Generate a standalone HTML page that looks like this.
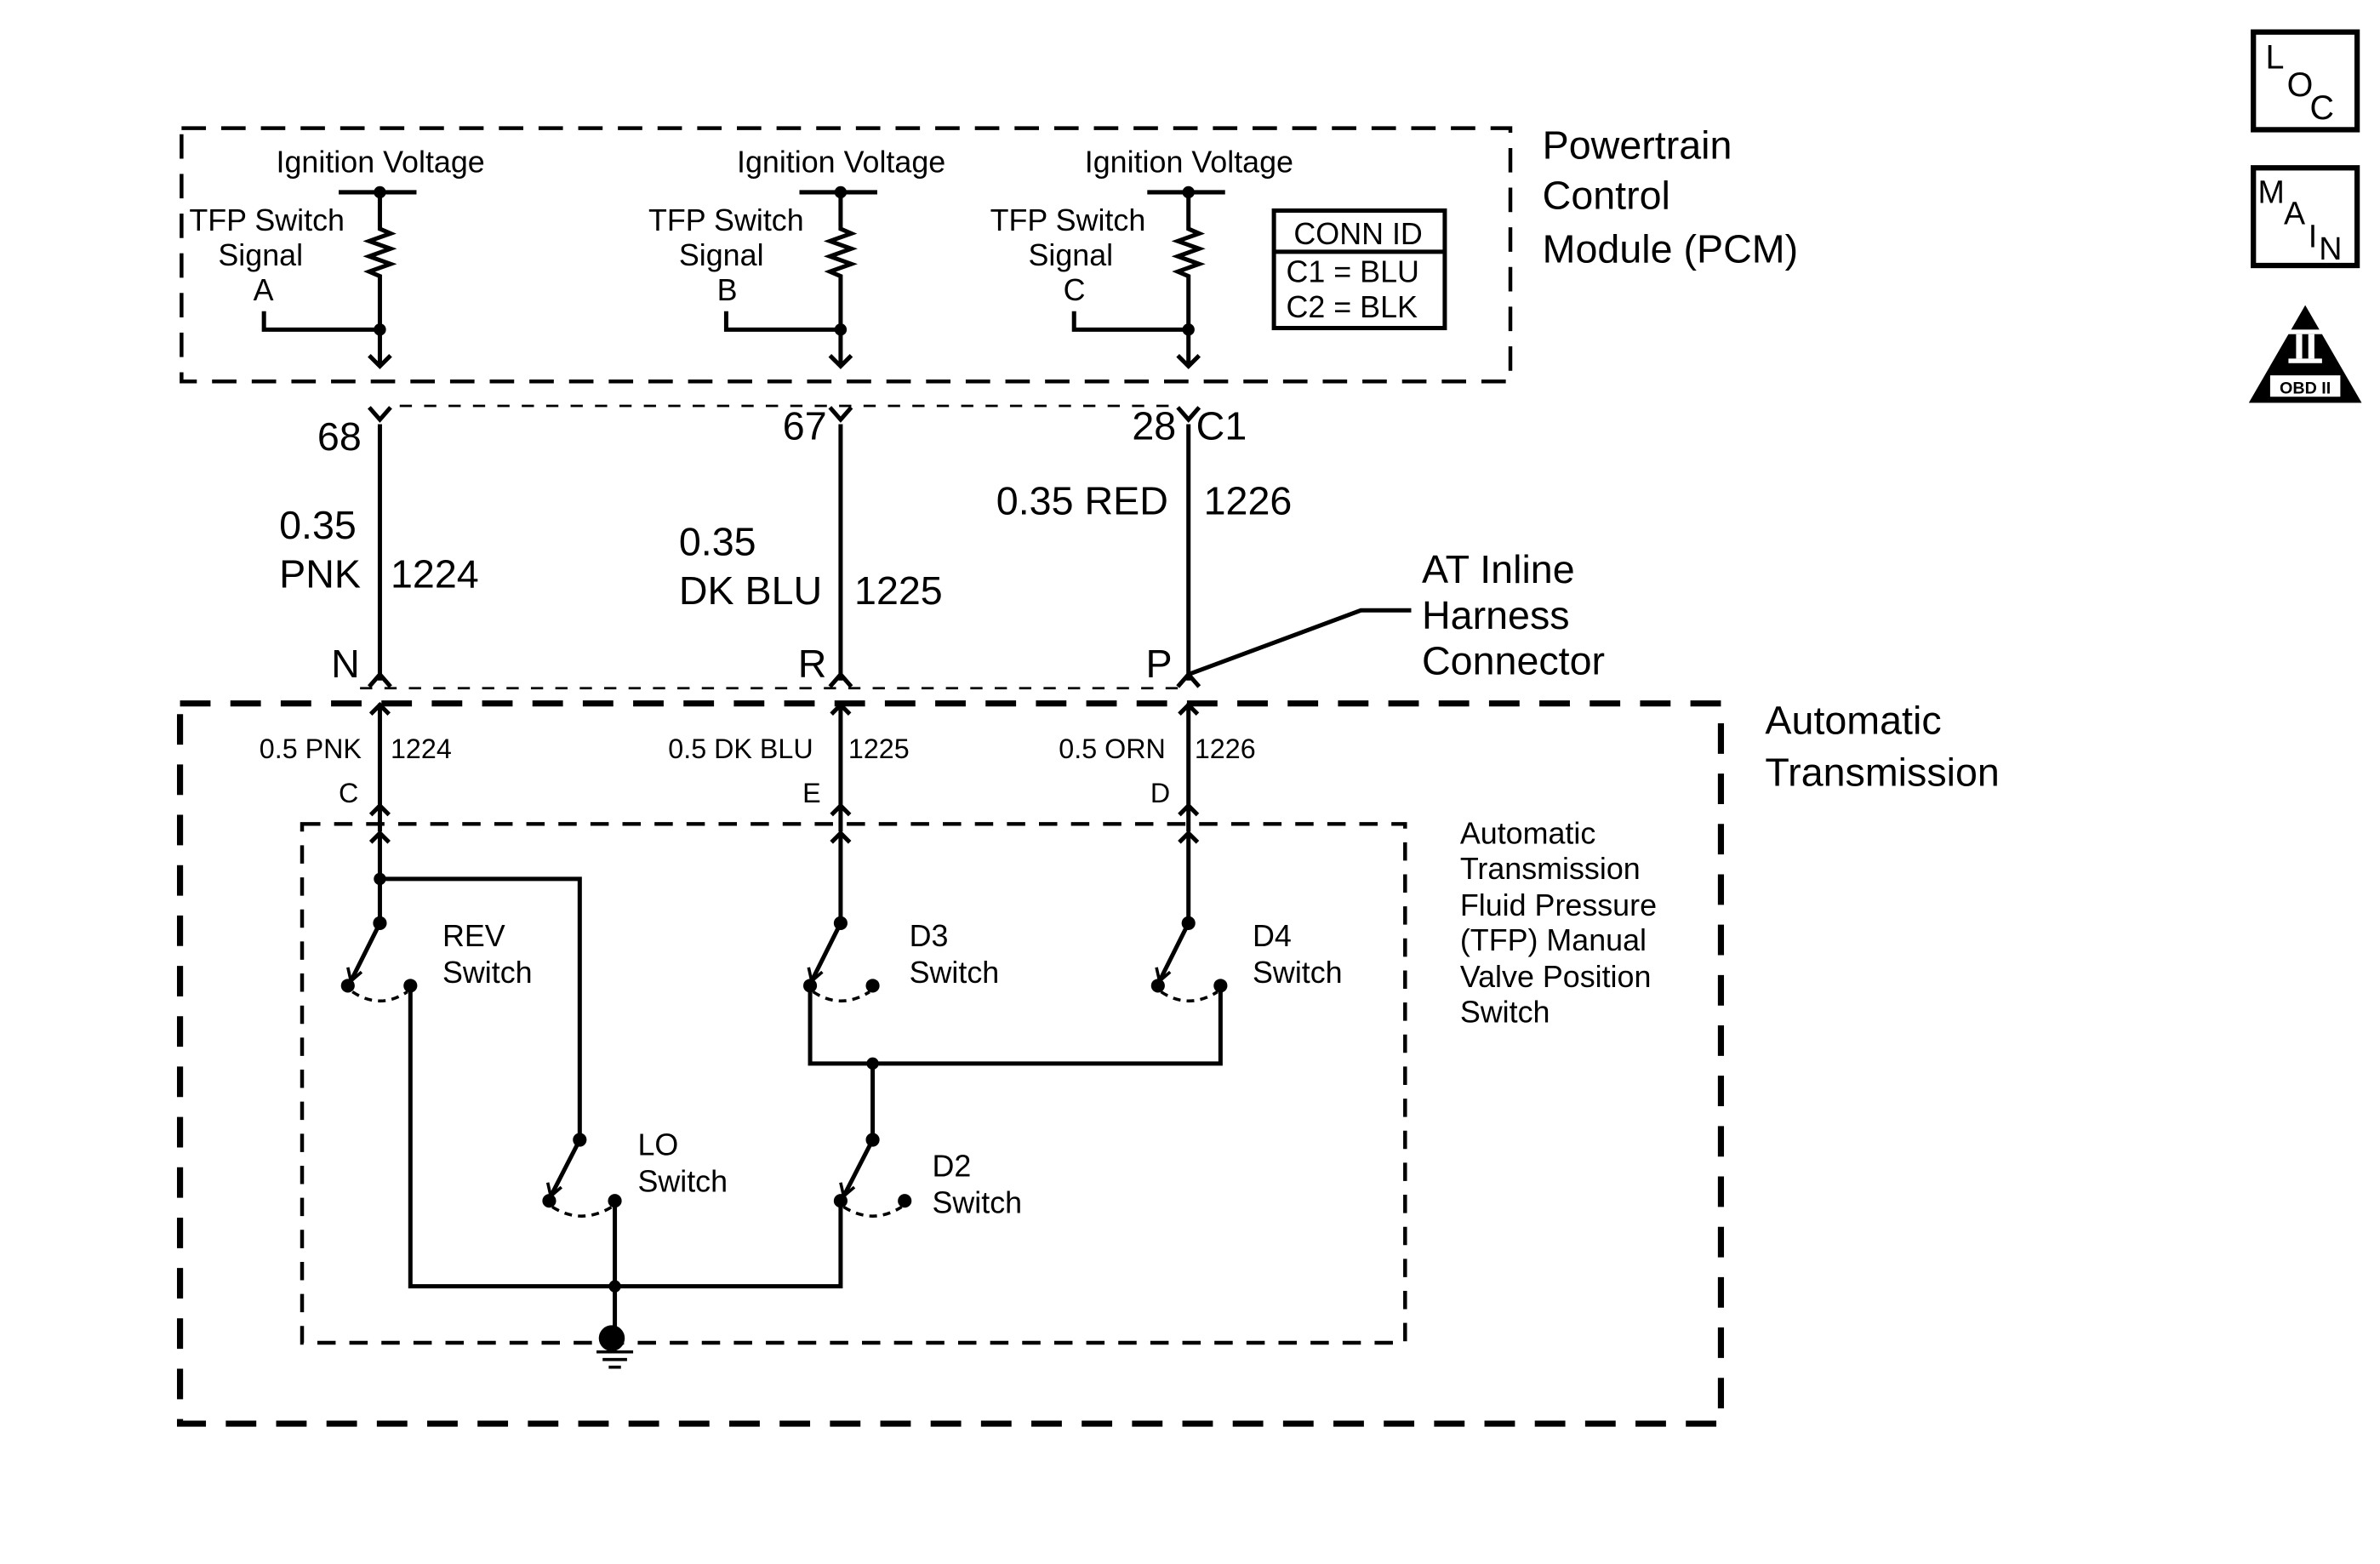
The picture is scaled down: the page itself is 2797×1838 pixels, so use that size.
<!DOCTYPE html>
<html><head><meta charset="utf-8"><style>html,body{margin:0;padding:0;background:#fff}svg{display:block}</style></head>
<body>
<svg width="2797" height="1838" viewBox="0 0 1560 1025" preserveAspectRatio="none" xmlns="http://www.w3.org/2000/svg" font-family="Liberation Sans, sans-serif" fill="none" stroke="#000">
<!-- PCM box -->
<rect x="119" y="84" width="871" height="166" stroke-width="2.5" stroke-dasharray="16,10"/>
<g stroke-width="2.8">
<path d="M222,126 H273 M249,126 V150 l7,3 -14,5 14,5 -14,5 14,5 -14,5 7,3 V240 M173,204 V216 H249"/>
<path d="M524,126 H575 M551,126 V150 l7,3 -14,5 14,5 -14,5 14,5 -14,5 7,3 V240 M476,204 V216 H551"/>
<path d="M752,126 H803 M779,126 V150 l7,3 -14,5 14,5 -14,5 14,5 -14,5 7,3 V240 M704,204 V216 H779"/>
<polyline points="242,233 249,240 256,233"/>
<polyline points="544,233 551,240 558,233"/>
<polyline points="772,233 779,240 786,233"/>
</g>
<g fill="#000" stroke="none">
<circle cx="249" cy="126" r="4"/><circle cx="249" cy="216" r="4"/>
<circle cx="551" cy="126" r="4"/><circle cx="551" cy="216" r="4"/>
<circle cx="779" cy="126" r="4"/><circle cx="779" cy="216" r="4"/>
</g>
<rect x="835" y="138" width="112" height="77" stroke-width="2.8"/>
<line x1="835" y1="165" x2="947" y2="165" stroke-width="2.8"/>
<line x1="262" y1="266" x2="772" y2="266" stroke-width="1.5" stroke-dasharray="8,8"/>
<line x1="236" y1="451" x2="772" y2="451" stroke-width="1.5" stroke-dasharray="8,8"/>
<g stroke-width="2.8">
<path d="M249,278 V446 M242,267 L249,275 L256,267 M242,450 L249,442 L256,450"/>
<path d="M551,278 V446 M544,267 L551,275 L558,267 M544,450 L551,442 L558,450"/>
<path d="M779,278 V446 M772,267 L779,275 L786,267 M772,450 L779,442 L786,450"/>
<path d="M779,442 L892,400 H925"/>
</g>
<rect x="118" y="461" width="1010" height="472" stroke-width="4" stroke-dasharray="20,13"/>
<g stroke-width="2.8">
<path d="M249,461 V530 M243,468 L249,462 L255,468 M243,534 L249,528 L255,534 M249,530 V545"/>
<path d="M551,461 V530 M545,468 L551,462 L557,468 M545,534 L551,528 L557,534 M551,530 V545"/>
<path d="M779,461 V530 M773,468 L779,462 L785,468 M773,534 L779,528 L785,534 M779,530 V545"/>
</g>
<rect x="198" y="540" width="723" height="340" stroke-width="2.5" stroke-dasharray="12,9"/>
<g stroke-width="2.8">
<path d="M243,552 L249,546 L255,552 M249,547 V605 M249,576 H380 V747"/>
<path d="M545,552 L551,546 L557,552 M551,547 V605"/>
<path d="M773,552 L779,546 L785,552 M779,547 V605"/>
<path d="M249,605 L230,643"/><path d="M551,605 L532,643"/><path d="M779,605 L760,643"/>
<path d="M380,747 L361,784"/><path d="M572,747 L553,784"/>
<path d="M269,646 V843 H551 V787"/>
<path d="M403,787 V880"/>
<path d="M531,646 V697 H800 V646"/>
<path d="M572,697 V747"/>
<path d="M391,886 H415 M395,891 H411 M399,896 H407" stroke-width="2"/>
</g>
<g stroke-width="2">
<polyline points="228,634 230,643 237,637"/>
<polyline points="530,634 532,643 539,637"/>
<polyline points="758,634 760,643 767,637"/>
<polyline points="359,775 361,784 368,778"/>
<polyline points="551,775 553,784 560,778"/>
</g>
<g stroke-width="2" stroke-dasharray="5,4">
<path d="M231,650 Q249,662 267,650"/>
<path d="M533,650 Q551,662 570,650"/>
<path d="M761,650 Q779,662 798,650"/>
<path d="M362,791 Q381,803 401,791"/>
<path d="M553,791 Q572,803 591,791"/>
</g>
<g fill="#000" stroke="none">
<circle cx="249" cy="576" r="4"/><circle cx="249" cy="605" r="4.5"/><circle cx="228" cy="646" r="4.5"/><circle cx="269" cy="646" r="4.5"/>
<circle cx="551" cy="605" r="4.5"/><circle cx="531" cy="646" r="4.5"/><circle cx="572" cy="646" r="4.5"/>
<circle cx="779" cy="605" r="4.5"/><circle cx="759" cy="646" r="4.5"/><circle cx="800" cy="646" r="4.5"/>
<circle cx="572" cy="697" r="4"/>
<circle cx="380" cy="747" r="4.5"/><circle cx="360" cy="787" r="4.5"/><circle cx="403" cy="787" r="4.5"/>
<circle cx="572" cy="747" r="4.5"/><circle cx="551" cy="787" r="4.5"/><circle cx="593" cy="787" r="4.5"/>
<circle cx="403" cy="843" r="4"/>
<circle cx="401" cy="877" r="8.5"/>
</g>
<rect x="1477" y="21" width="68" height="64" stroke-width="3.5"/>
<rect x="1477" y="110" width="68" height="64" stroke-width="3.5"/>
<polygon points="1511,200 1548,264 1474,264" fill="#000" stroke="none"/>
<g fill="#fff" stroke="none"><rect x="1500" y="216" width="22" height="3"/><rect x="1500" y="235" width="22" height="3"/><rect x="1505" y="219" width="4" height="16"/><rect x="1513" y="219" width="4" height="16"/><rect x="1488" y="246" width="46" height="14"/></g>
<g fill="#000" stroke="none">
<text x="1485" y="45" font-size="22">L</text><text x="1499" y="63" font-size="22">O</text><text x="1514" y="78" font-size="22">C</text>
<text x="1480" y="133" font-size="21">M</text><text x="1497" y="147" font-size="21">A</text><text x="1513" y="162" font-size="21">I</text><text x="1520" y="170" font-size="21">N</text>
<text x="1511" y="258" font-size="11" font-weight="bold" text-anchor="middle">OBD II</text>
<g font-size="20">
<text x="181" y="113">Ignition Voltage</text>
<text x="483" y="113">Ignition Voltage</text>
<text x="711" y="113">Ignition Voltage</text>
<text x="124" y="151">TFP Switch</text><text x="143" y="174">Signal</text><text x="166" y="197">A</text>
<text x="425" y="151">TFP Switch</text><text x="445" y="174">Signal</text><text x="470" y="197">B</text>
<text x="649" y="151">TFP Switch</text><text x="674" y="174">Signal</text><text x="697" y="197">C</text>
<text x="848" y="160">CONN ID</text>
<text x="843" y="185">C1  =  BLU</text>
<text x="843" y="208">C2  =  BLK</text>
</g>
<g font-size="26">
<text x="1011" y="104">Powertrain</text>
<text x="1011" y="137">Control</text>
<text x="1011" y="172">Module (PCM)</text>
<text x="208" y="295">68</text>
<text x="513" y="288">67</text>
<text x="742" y="288">28</text><text x="784" y="288">C1</text>
<text x="183" y="353">0.35</text>
<text x="183" y="385">PNK</text><text x="256" y="385">1224</text>
<text x="445" y="364">0.35</text>
<text x="445" y="396">DK BLU</text><text x="560" y="396">1225</text>
<text x="653" y="337">0.35 RED</text><text x="789" y="337">1226</text>
<text x="932" y="382">AT Inline</text>
<text x="932" y="412">Harness</text>
<text x="932" y="442">Connector</text>
<text x="217" y="444">N</text>
<text x="523" y="444">R</text>
<text x="751" y="444">P</text>
<text x="1157" y="481">Automatic</text>
<text x="1157" y="515">Transmission</text>
</g>
<g font-size="18">
<text x="170" y="497">0.5 PNK</text><text x="256" y="497">1224</text>
<text x="438" y="497">0.5 DK BLU</text><text x="556" y="497">1225</text>
<text x="694" y="497">0.5 ORN</text><text x="783" y="497">1226</text>
<text x="222" y="526">C</text><text x="526" y="526">E</text><text x="754" y="526">D</text>
</g>
<g font-size="20">
<text x="957" y="553">Automatic</text>
<text x="957" y="576">Transmission</text>
<text x="957" y="600">Fluid Pressure</text>
<text x="957" y="623">(TFP) Manual</text>
<text x="957" y="647">Valve Position</text>
<text x="957" y="670">Switch</text>
<text x="290" y="620">REV</text><text x="290" y="644">Switch</text>
<text x="596" y="620">D3</text><text x="596" y="644">Switch</text>
<text x="821" y="620">D4</text><text x="821" y="644">Switch</text>
<text x="418" y="757">LO</text><text x="418" y="781">Switch</text>
<text x="611" y="771">D2</text><text x="611" y="795">Switch</text>
</g>
</g>
</svg>
</body></html>
